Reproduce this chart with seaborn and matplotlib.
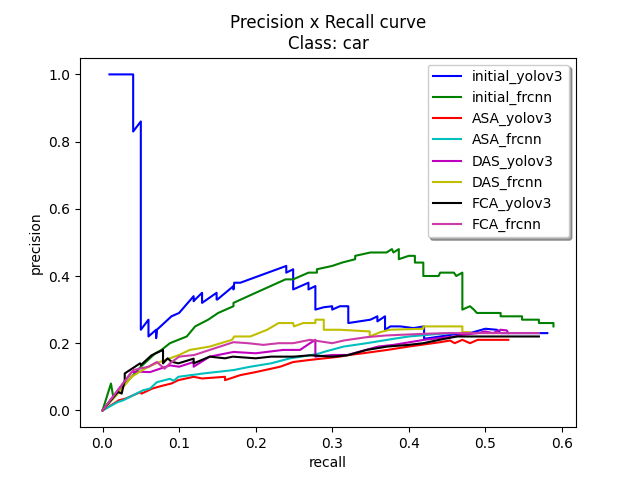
import matplotlib
matplotlib.use("Agg")
import matplotlib.pyplot as plt
import seaborn as sns

# ---------------- data ----------------
labels = ["initial_yolov3", "initial_frcnn", "ASA_yolov3", "ASA_frcnn",
          "DAS_yolov3", "DAS_frcnn", "FCA_yolov3", "FCA_frcnn"]

initial_yolov3_rec = [0.009, 0.040, 0.040, 0.050, 0.050, 0.060, 0.060, 0.070, 0.070, 0.071, 0.090, 0.100,
                      0.119, 0.119, 0.121, 0.130, 0.130, 0.149, 0.149, 0.150, 0.171, 0.171, 0.172, 0.180,
                      0.240, 0.240, 0.249, 0.249, 0.269, 0.269, 0.278, 0.278, 0.289, 0.300, 0.300, 0.310,
                      0.321, 0.321, 0.350, 0.359, 0.359, 0.369, 0.369, 0.376, 0.389, 0.406, 0.420, 0.420,
                      0.441, 0.458, 0.480, 0.500, 0.515, 0.520, 0.581]
initial_yolov3_prec = [1.0, 1.0, 0.83, 0.86, 0.24, 0.27, 0.22, 0.24, 0.215, 0.24, 0.28, 0.29,
                       0.34, 0.325, 0.33, 0.35, 0.32, 0.35, 0.33, 0.33, 0.37, 0.36, 0.38, 0.38,
                       0.43, 0.41, 0.42, 0.36, 0.38, 0.36, 0.37, 0.30, 0.307, 0.31, 0.30, 0.31,
                       0.31, 0.26, 0.27, 0.28, 0.265, 0.28, 0.24, 0.25, 0.25, 0.245, 0.25, 0.213,
                       0.22, 0.226, 0.23, 0.243, 0.24, 0.23, 0.23]

initial_frcnn_rec = [0.0, 0.011, 0.014, 0.030, 0.050, 0.069, 0.077, 0.088, 0.110, 0.121, 0.138, 0.151,
                     0.171, 0.171, 0.200, 0.239, 0.249, 0.269, 0.280, 0.280, 0.300, 0.313, 0.330, 0.330,
                     0.350, 0.371, 0.378, 0.380, 0.387, 0.387, 0.400, 0.408, 0.408, 0.419, 0.419, 0.439,
                     0.441, 0.459, 0.462, 0.470, 0.470, 0.480, 0.485, 0.489, 0.520, 0.520, 0.548, 0.548,
                     0.570, 0.570, 0.589, 0.589]
initial_frcnn_prec = [0.0, 0.08, 0.04, 0.08, 0.13, 0.17, 0.18, 0.20, 0.22, 0.25, 0.27, 0.29,
                      0.31, 0.32, 0.35, 0.39, 0.39, 0.41, 0.41, 0.42, 0.43, 0.44, 0.45, 0.46,
                      0.47, 0.47, 0.48, 0.47, 0.48, 0.45, 0.46, 0.46, 0.44, 0.44, 0.40, 0.40,
                      0.41, 0.41, 0.40, 0.41, 0.30, 0.31, 0.30, 0.29, 0.29, 0.28, 0.28, 0.27,
                      0.27, 0.26, 0.26, 0.25]

asa_yolov3_rec = [0.0, 0.018, 0.021, 0.030, 0.049, 0.051, 0.065, 0.079, 0.090, 0.099, 0.119, 0.130,
                  0.160, 0.160, 0.180, 0.200, 0.232, 0.249, 0.270, 0.290, 0.310, 0.319, 0.340, 0.372,
                  0.400, 0.441, 0.454, 0.460, 0.470, 0.480, 0.490, 0.500, 0.530]
asa_yolov3_prec = [0.0, 0.025, 0.03, 0.035, 0.054, 0.05, 0.065, 0.074, 0.08, 0.09, 0.10, 0.095,
                   0.10, 0.09, 0.105, 0.114, 0.13, 0.144, 0.15, 0.155, 0.16, 0.164, 0.17, 0.18,
                   0.19, 0.203, 0.208, 0.20, 0.21, 0.20, 0.21, 0.21, 0.21]

asa_frcnn_rec = [0.0, 0.020, 0.027, 0.053, 0.062, 0.071, 0.088, 0.093, 0.099, 0.132, 0.171, 0.193,
                 0.220, 0.245, 0.271, 0.284, 0.289, 0.315, 0.345, 0.380, 0.400, 0.441, 0.458]
asa_frcnn_prec = [0.0, 0.025, 0.03, 0.06, 0.065, 0.084, 0.094, 0.088, 0.10, 0.11, 0.12, 0.13,
                  0.14, 0.155, 0.164, 0.17, 0.174, 0.19, 0.20, 0.213, 0.22, 0.228, 0.23]

das_yolov3_rec = [0.0, 0.020, 0.038, 0.050, 0.062, 0.088, 0.100, 0.119, 0.119, 0.140, 0.171, 0.200,
                  0.236, 0.258, 0.271, 0.278, 0.278, 0.300, 0.320, 0.360, 0.380, 0.420, 0.460, 0.470,
                  0.490, 0.500, 0.510, 0.520, 0.528, 0.530]
das_yolov3_prec = [0.0, 0.06, 0.114, 0.115, 0.114, 0.134, 0.13, 0.144, 0.13, 0.16, 0.174, 0.17,
                   0.18, 0.18, 0.20, 0.21, 0.16, 0.165, 0.165, 0.19, 0.195, 0.21, 0.22, 0.225,
                   0.23, 0.235, 0.23, 0.24, 0.238, 0.23]

das_frcnn_rec = [0.0, 0.020, 0.038, 0.055, 0.070, 0.088, 0.100, 0.114, 0.140, 0.169, 0.172, 0.193,
                 0.215, 0.230, 0.249, 0.250, 0.262, 0.278, 0.278, 0.289, 0.289, 0.310, 0.349, 0.349,
                 0.363, 0.375, 0.419, 0.419, 0.440, 0.470, 0.470, 0.480]
das_frcnn_prec = [0.0, 0.05, 0.10, 0.124, 0.14, 0.155, 0.165, 0.18, 0.19, 0.21, 0.22, 0.22,
                  0.24, 0.26, 0.26, 0.25, 0.26, 0.26, 0.27, 0.27, 0.24, 0.24, 0.235, 0.22,
                  0.233, 0.24, 0.243, 0.25, 0.25, 0.25, 0.233, 0.233]

fca_yolov3_rec = [0.0, 0.020, 0.025, 0.029, 0.029, 0.049, 0.050, 0.064, 0.079, 0.079, 0.085, 0.090,
                  0.099, 0.119, 0.119, 0.140, 0.160, 0.170, 0.200, 0.220, 0.250, 0.271, 0.300, 0.320,
                  0.345, 0.372, 0.400, 0.419, 0.440, 0.463, 0.570]
fca_yolov3_prec = [0.0, 0.055, 0.05, 0.09, 0.11, 0.14, 0.135, 0.164, 0.18, 0.14, 0.155, 0.145,
                   0.14, 0.154, 0.14, 0.16, 0.155, 0.16, 0.155, 0.16, 0.16, 0.164, 0.16, 0.164,
                   0.18, 0.19, 0.195, 0.20, 0.21, 0.22, 0.22]

fca_frcnn_rec = [0.0, 0.020, 0.040, 0.060, 0.071, 0.081, 0.088, 0.100, 0.120, 0.140, 0.171, 0.190,
                 0.210, 0.230, 0.249, 0.271, 0.300, 0.315, 0.345, 0.370, 0.420, 0.450, 0.470, 0.570]
fca_frcnn_prec = [0.0, 0.06, 0.12, 0.13, 0.144, 0.124, 0.14, 0.16, 0.165, 0.18, 0.203, 0.20,
                  0.195, 0.20, 0.20, 0.21, 0.20, 0.208, 0.218, 0.223, 0.228, 0.23, 0.23, 0.23]

colors = ["b", "g", "r", "c", "m", "y", "k", "#cc3aa8"]

series = [
    (initial_yolov3_rec, initial_yolov3_prec),
    (initial_frcnn_rec, initial_frcnn_prec),
    (asa_yolov3_rec, asa_yolov3_prec),
    (asa_frcnn_rec, asa_frcnn_prec),
    (das_yolov3_rec, das_yolov3_prec),
    (das_frcnn_rec, das_frcnn_prec),
    (fca_yolov3_rec, fca_yolov3_prec),
    (fca_frcnn_rec, fca_frcnn_prec),
]

# ---------------- plot ----------------
fig, ax = plt.subplots(figsize=(6.4, 4.8), dpi=100)
for (rec, prec), lab, col in zip(series, labels, colors):
    sns.lineplot(x=rec, y=prec, ax=ax, color=col, label=lab, sort=False,
                 estimator=None, linewidth=1.5)

ax.set_title("Precision x Recall curve\nClass: car")
ax.set_xlabel("recall")
ax.set_ylabel("precision")
ax.legend(loc="upper right", shadow=True)
fig.savefig("out.png", dpi=100)
